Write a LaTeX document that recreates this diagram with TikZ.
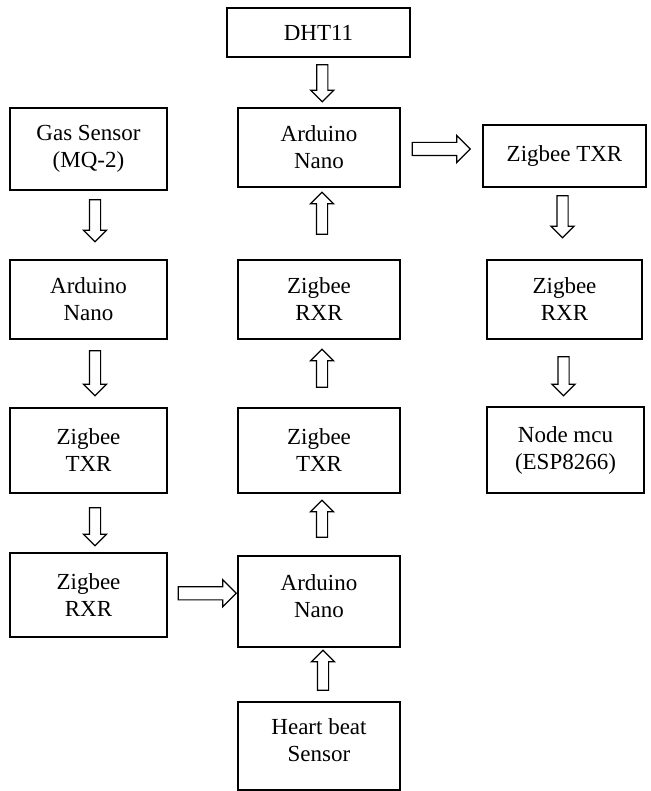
\documentclass[tikz,border=0pt]{standalone}
\usepackage{fontspec}
\setmainfont{Liberation Serif}
\usetikzlibrary{calc,shapes.arrows}
\begin{document}
\begin{tikzpicture}[x=1pt,y=-1pt,
  box/.style={draw, line width=1.5pt, align=center, inner sep=0pt,
    font=\fontsize{23}{27}\selectfont},
  txt/.style={align=center, inner sep=0pt, font=\fontsize{23}{27}\selectfont},
  varr/.style={single arrow, draw, line width=1.2pt, inner xsep=0pt, inner ysep=5pt,
    single arrow head extend=6pt, single arrow tip angle=90},
  harr/.style={single arrow, draw, line width=1.2pt, inner xsep=0pt, inner ysep=6pt,
    single arrow head extend=7pt, single arrow tip angle=90, minimum height=58pt}]
\useasboundingbox (0,0) rectangle (650,791);
% boxes
\node[box, minimum width=183pt, minimum height=49pt] (dht) at (318.5,32.5) {DHT11};
\node[box, minimum width=157pt, minimum height=82pt] (gas) at (88.5,149) {Gas Sensor\\(MQ-2)};
\node[box, minimum width=162pt, minimum height=79pt] (ard1) at (319,147.5) {Arduino\\Nano};
\node[box, minimum width=163pt, minimum height=62pt] (txrR) at (564.5,156) {Zigbee TXR};
\node[box, minimum width=157pt, minimum height=79pt] (ardL) at (88.5,299.5) {Arduino\\Nano};
\node[box, minimum width=162pt, minimum height=79pt] (rxrM) at (319,299.5) {Zigbee\\RXR};
\node[box, minimum width=155pt, minimum height=79pt] (rxrR) at (564.5,299.5) {Zigbee\\RXR};
\node[box, minimum width=157pt, minimum height=85pt] (txrL) at (88.5,450.5) {Zigbee\\TXR};
\node[box, minimum width=162pt, minimum height=85pt] (txrM) at (319,450.5) {Zigbee\\TXR};
\node[box, minimum width=157pt, minimum height=86pt] (node) at (565.5,450) {Node mcu\\(ESP8266)};
\node[box, minimum width=157pt, minimum height=84pt] (rxrL) at (88.5,595) {Zigbee\\RXR};
\node[box, minimum width=162pt, minimum height=91pt] (ardM) at (319,601.5) {};
\node[txt] (ardMtext) at ($(ardM.center)+(0,-5)$) {Arduino\\Nano};
\node[box, minimum width=162pt, minimum height=88pt] (heart) at (319,746) {};
\node[txt] (hearttext) at ($(heart.center)+(0,-6)$) {Heart beat\\Sensor};
% arrows
\node[varr, rotate=-90, minimum height=37pt] (a1) at ($(dht.south)!0.5!(ard1.north)+(3.5,-2)$) {};
\node[varr, rotate=-90, minimum height=42pt] (a2) at ($(gas.south)!0.5!(ardL.north)+(6.5,-7)$) {};
\node[varr, rotate=-90, minimum height=45pt] (a3) at ($(ardL.south)!0.5!(txrL.north)+(6.5,-3)$) {};
\node[varr, rotate=-90, minimum height=38pt] (a4) at ($(txrL.south)!0.5!(rxrL.north)+(6.5,1)$) {};
\node[harr] (a5) at ($(rxrL.east)!0.5!(ardM.west)+(1.5,-5)$) {};
\node[varr, rotate=90, minimum height=40pt] (a6) at ($(heart.north)!0.5!(ardM.south)+(4,-1.5)$) {};
\node[varr, rotate=90, minimum height=37pt] (a7) at ($(ardM.north)!0.5!(txrM.south)+(3,-3)$) {};
\node[varr, rotate=90, minimum height=38pt] (a8) at ($(txrM.north)!0.5!(rxrM.south)+(3,-2.5)$) {};
\node[varr, rotate=90, minimum height=42pt] (a9) at ($(rxrM.north)!0.5!(ard1.south)+(3,-7.5)$) {};
\node[harr] (a10) at ($(ard1.east)!0.5!(txrR.west)+(-3.5,-2.75)$) {};
\node[varr, rotate=-90, minimum height=42pt] (a11) at ($(txrR.south)!0.5!(rxrR.north)+(-2,-9.5)$) {};
\node[varr, rotate=-90, minimum height=39pt] (a12) at ($(rxrR.south)!0.5!(node.north)+(-1.5,0.5)$) {};
\end{tikzpicture}
\end{document}
